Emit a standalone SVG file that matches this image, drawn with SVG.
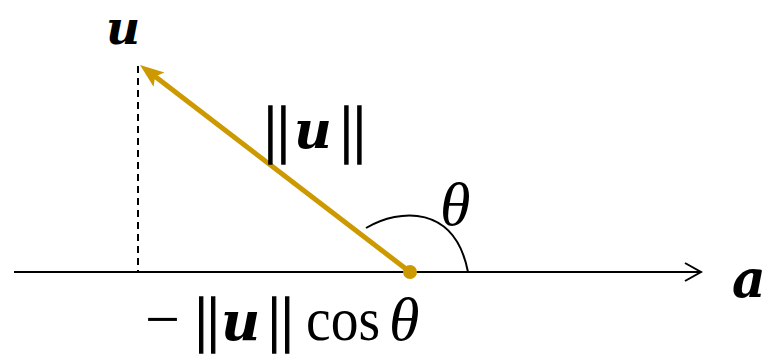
<svg xmlns="http://www.w3.org/2000/svg" width="769" height="356" viewBox="0 0 769 356">
<style>
.m{font-family:"Liberation Serif","Times New Roman",serif;fill:#000}
.bi{font-family:"DejaVu Serif","Liberation Serif",serif;font-weight:bold;font-style:italic}
.it{font-style:italic}
.bar{stroke:#000;stroke-width:1.3}
.ax{stroke:#000;stroke-width:2;fill:none}
.gold{stroke:#cc9900;stroke-width:5;fill:none}
</style>
<defs>
<marker id="ah" markerUnits="userSpaceOnUse" viewBox="0 -10 24 20" refX="9" refY="0" markerWidth="24" markerHeight="20" orient="auto">
<path d="M0,-9 L24,0 L0,9 L5,0 Z" fill="#cc9900"/>
</marker>
</defs>
<rect width="769" height="356" fill="#fff"/>
<g id="connectors">
<line class="ax" x1="14" y1="272" x2="700" y2="272"/>
<polyline class="ax" points="685,263 701,272 685,281"/>
<line x1="138" y1="66" x2="138" y2="272" stroke="#000" stroke-width="2" stroke-dasharray="7,5"/>
<path class="ax" d="M366,228 C400,208 455,205 468,272"/>
<line class="gold" x1="410" y1="272" x2="151.9" y2="74.1" marker-end="url(#ah)"/>
</g>
<g id="origin"><circle cx="410" cy="272" r="7" fill="#cc9900"/></g>
<g id="label-u"><text class="m bi" x="106" y="44" font-size="47">u</text></g>
<g id="label-norm">
<text class="m" font-size="64" y="150"><tspan class="bar" x="264">|</tspan><tspan class="bar" x="277">|</tspan><tspan class="bi" x="294" font-size="52" dy="-2">u</tspan><tspan class="bar" x="340" dy="2">|</tspan><tspan class="bar" x="353">|</tspan></text>
</g>
<g id="label-theta"><text class="m it" x="440" y="225" font-size="62">θ</text></g>
<g id="label-a"><text class="m bi" x="732" y="297" font-size="52">a</text></g>
<g id="label-proj">
<text class="m" font-size="62" y="340"><tspan x="145">−</tspan><tspan class="bar" x="195">|</tspan><tspan class="bar" x="207">|</tspan><tspan class="bi" x="221" font-size="54">u</tspan><tspan class="bar" x="268">|</tspan><tspan class="bar" x="281">|</tspan><tspan x="306" textLength="74" lengthAdjust="spacingAndGlyphs">cos</tspan><tspan class="it" x="389">θ</tspan></text>
</g>
</svg>
